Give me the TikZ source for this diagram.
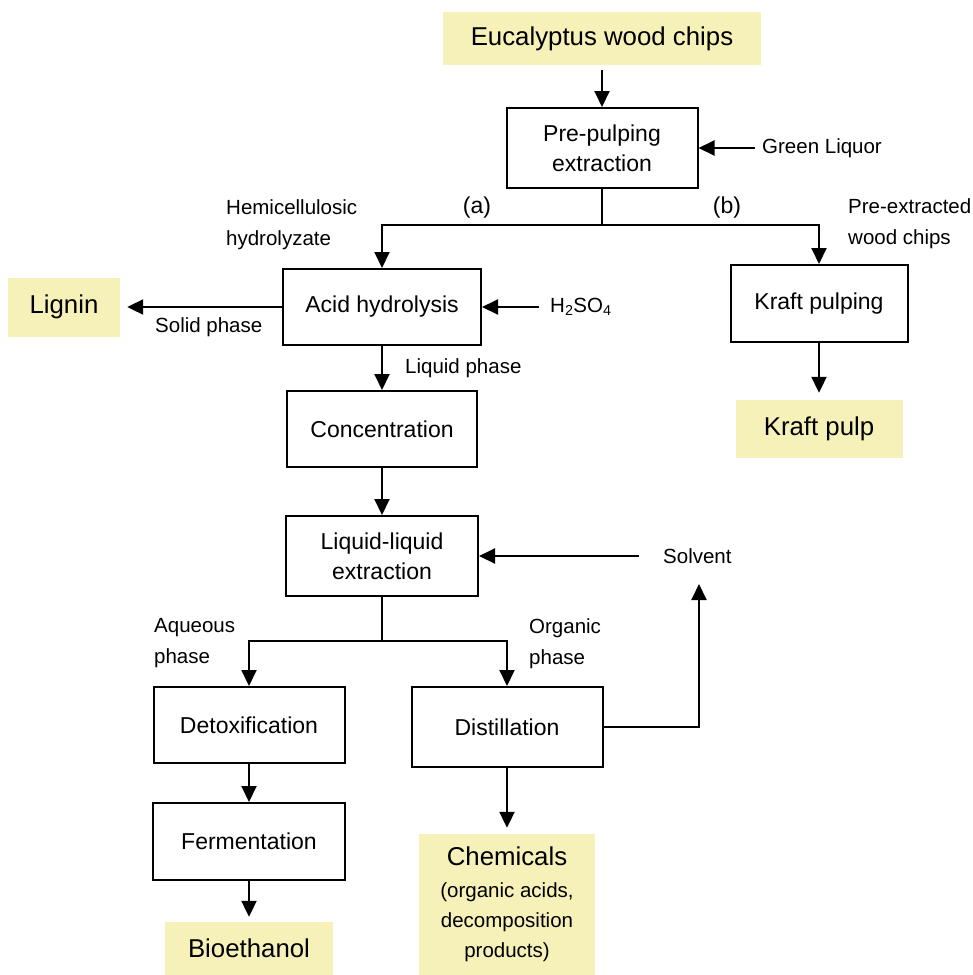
\documentclass[tikz,border=0pt]{standalone}
\usepackage{fontspec}
\setmainfont{Liberation Sans}
\usetikzlibrary{arrows.meta}
\definecolor{prodc}{HTML}{F6F1B8}
\begin{document}
\begin{tikzpicture}[x=1pt,y=-1pt,
  proc/.style={draw=black, line width=2pt, fill=white, inner sep=0pt, align=center, font=\fontsize{23}{30}\selectfont},
  prod/.style={fill=prodc, draw=none, inner sep=0pt, align=center, font=\fontsize{25.8}{31}\selectfont},
  lab/.style={inner sep=0pt, align=left, font=\fontsize{20.5}{31}\selectfont},
  flow/.style={line width=2pt, -{Triangle[length=16pt,width=15pt]}},
  conn/.style={line width=2pt}]
\path[fill=white, use as bounding box] (0,0) rectangle (973,975);

% nodes
\node[prod, minimum width=318pt, minimum height=53pt] (euc) at (602,38.5) {Eucalyptus wood chips};
\node[proc, minimum width=191pt, minimum height=80pt] (pre) at (602,148) {Pre-pulping\\extraction};
\node[lab, anchor=west] (gl) at (762,148) {Green Liquor};
\coordinate (glst) at (755,148);

\node[lab, font=\fontsize{23}{30}\selectfont] (la) at (477,208) {(a)};
\node[lab, font=\fontsize{23}{30}\selectfont] (lb) at (727,208) {(b)};
\node[lab, anchor=west] (hemi) at (226,225) {Hemicellulosic\\hydrolyzate};
\node[lab, anchor=west] (prex) at (848,224) {Pre-extracted\\wood chips};
\coordinate (split) at (602,225);

\node[proc, minimum width=198pt, minimum height=76pt] (acid) at (382,307) {Acid hydrolysis};
\node[proc, minimum width=177pt, minimum height=77pt] (kraft) at (819,303.5) {Kraft pulping};
\node[prod, minimum width=112pt, minimum height=59pt] (lignin) at (64,307) {Lignin};
\node[lab, anchor=west] (solid) at (155,327) {Solid phase};
\node[lab, anchor=west] (h2so4) at (550,307) {H\textsubscript{2}SO\textsubscript{4}};
\coordinate (h2st) at (539,307);
\node[lab, anchor=west] (liq) at (405,368) {Liquid phase};
\node[prod, minimum width=167pt, minimum height=58pt] (kpulp) at (819,429) {Kraft pulp};

\node[proc, minimum width=190pt, minimum height=76pt] (conc) at (382,429) {Concentration};
\node[proc, minimum width=192pt, minimum height=80pt] (ll) at (382,556) {Liquid-liquid\\extraction};
\node[lab, anchor=west] (solv) at (663,556) {Solvent};
\coordinate (solvst) at (639,556);
\coordinate (solvret) at (699,584);
\coordinate (split2) at (382,641);
\node[lab, anchor=west] (aq) at (154,643.5) {Aqueous\\phase};
\node[lab, anchor=west] (org) at (529,643.5) {Organic\\phase};

\node[proc, minimum width=191pt, minimum height=76pt] (detox) at (249,725) {Detoxification};
\node[proc, minimum width=191pt, minimum height=80pt] (dist) at (507,727) {Distillation};
\node[proc, minimum width=192pt, minimum height=77pt] (ferm) at (249,841.5) {Fermentation};
\node[prod, minimum width=168pt, minimum height=53pt] (bio) at (249,948.5) {Bioethanol};
\node[prod, minimum width=176pt, minimum height=141pt, font=\fontsize{20.5}{30}\selectfont] (chem) at (507,904.5)
  {{\fontsize{25.8}{31}\selectfont Chemicals}\\[2pt](organic acids,\\decomposition\\products)};

% connectors
\draw[flow, shorten <=5pt] (euc.south) -- (pre.north);
\draw[flow] (glst) -- (pre.east);
\draw[conn] (pre.south) -- (split);
\draw[flow] (split) -| (acid.north);
\draw[flow] (split) -| (kraft.north);
\draw[flow, shorten >=7pt] (acid.west) -- (lignin.east);
\draw[flow] (h2st) -- (acid.east);
\draw[flow] (acid.south) -- (conc.north);
\draw[flow, shorten >=7pt] (kraft.south) -- (kpulp.north);
\draw[flow] (conc.south) -- (ll.north);
\draw[flow] (solvst) -- (ll.east);
\draw[conn] (ll.south) -- (split2);
\draw[flow] (split2) -| (detox.north);
\draw[flow] (split2) -| (dist.north);
\draw[flow] (dist.east) -| (solvret);
\draw[flow] (detox.south) -- (ferm.north);
\draw[flow, shorten >=5pt] (ferm.south) -- (bio.north);
\draw[flow, shorten >=6pt] (dist.south) -- (chem.north);
\end{tikzpicture}
\end{document}
